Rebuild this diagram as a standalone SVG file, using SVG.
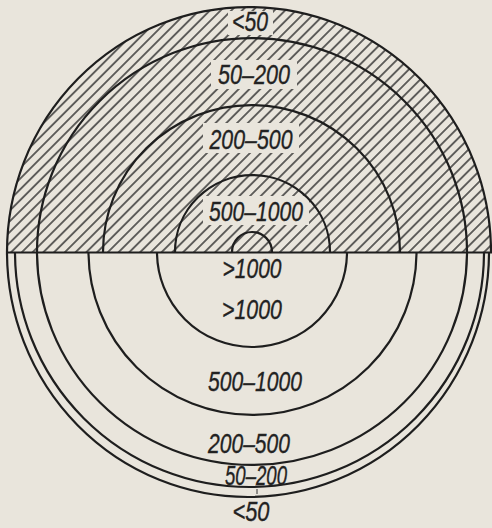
<svg xmlns="http://www.w3.org/2000/svg" width="492" height="528" viewBox="0 0 492 528">
<style>
.bg{fill:#e9e5dc}
.ln{fill:none;stroke:#1e1e1e;stroke-width:2.2}
.lbl{font-family:"Liberation Sans",Arial,sans-serif;font-style:italic;fill:#222;stroke:#222;stroke-width:0.35;text-anchor:middle;font-size:27px}
</style>
<defs>
<pattern id="hatch" patternUnits="userSpaceOnUse" width="7.6" height="10" patternTransform="rotate(45)">
<line x1="3.8" y1="0" x2="3.8" y2="10" stroke="#2a2a2a" stroke-width="1.4"/>
</pattern>
<clipPath id="topHalf">
<path d="M7,252 A242,245 0 0 1 491,252 Z"/>
</clipPath>
</defs>
<rect class="bg" x="0" y="0" width="492" height="528"/>
<g id="hatching" clip-path="url(#topHalf)">
<rect x="0" y="0" width="492" height="252" fill="url(#hatch)"/>
<rect class="bg" x="228" y="11" width="45" height="24"/>
<rect class="bg" x="211" y="60" width="86" height="29"/>
<rect class="bg" x="203" y="123" width="96" height="30"/>
<rect class="bg" x="203" y="196" width="106" height="29"/>
</g>
<g id="connectors">
<path class="ln" d="M7,252 A242,245 0 0 1 491,252"/>
<path class="ln" d="M37,252 A215,214 0 0 1 467,252"/>
<path class="ln" d="M103,252 A148.5,147 0 0 1 400,252"/>
<path class="ln" d="M175,252 A77.5,77 0 0 1 330,252"/>
<path class="ln" d="M232,252 A20,20 0 0 1 272,252"/>
<path class="ln" d="M157,252 A95,95 0 0 0 347,252"/>
<path class="ln" d="M88.5,252 A164,163 0 0 0 416.5,252"/>
<path class="ln" d="M37,252 A215,213 0 0 0 467,252"/>
<path class="ln" d="M15,252 A234.5,235 0 0 0 484,252"/>
<path class="ln" d="M7,252 A241,245 0 0 0 489,252"/>
<line class="ln" x1="6" y1="252.5" x2="492" y2="252.5"/>
<line x1="257" y1="489" x2="257" y2="494" stroke="#333" stroke-width="1"/>
</g>
<g id="label-top-lt50"><text class="lbl" x="250" y="31" font-size="24" textLength="36" lengthAdjust="spacingAndGlyphs">&lt;50</text></g>
<g id="label-top-50-200"><text class="lbl" x="254" y="84" textLength="72" lengthAdjust="spacingAndGlyphs">50–200</text></g>
<g id="label-top-200-500"><text class="lbl" x="251" y="149" textLength="83" lengthAdjust="spacingAndGlyphs">200–500</text></g>
<g id="label-top-500-1000"><text class="lbl" x="256" y="221" textLength="94" lengthAdjust="spacingAndGlyphs">500–1000</text></g>
<g id="label-bot-gt1000a"><text class="lbl" x="252" y="278" textLength="59" lengthAdjust="spacingAndGlyphs">&gt;1000</text></g>
<g id="label-bot-gt1000b"><text class="lbl" x="252" y="319" textLength="60" lengthAdjust="spacingAndGlyphs">&gt;1000</text></g>
<g id="label-bot-500-1000"><text class="lbl" x="255" y="391" textLength="94" lengthAdjust="spacingAndGlyphs">500–1000</text></g>
<g id="label-bot-200-500"><text class="lbl" x="249" y="453" textLength="82" lengthAdjust="spacingAndGlyphs">200–500</text></g>
<g id="label-bot-50-200"><text class="lbl" x="256" y="485" font-size="21" textLength="62" lengthAdjust="spacingAndGlyphs">50–200</text></g>
<g id="label-bot-lt50"><text class="lbl" x="251" y="521" font-size="24" textLength="37" lengthAdjust="spacingAndGlyphs">&lt;50</text></g>
</svg>
